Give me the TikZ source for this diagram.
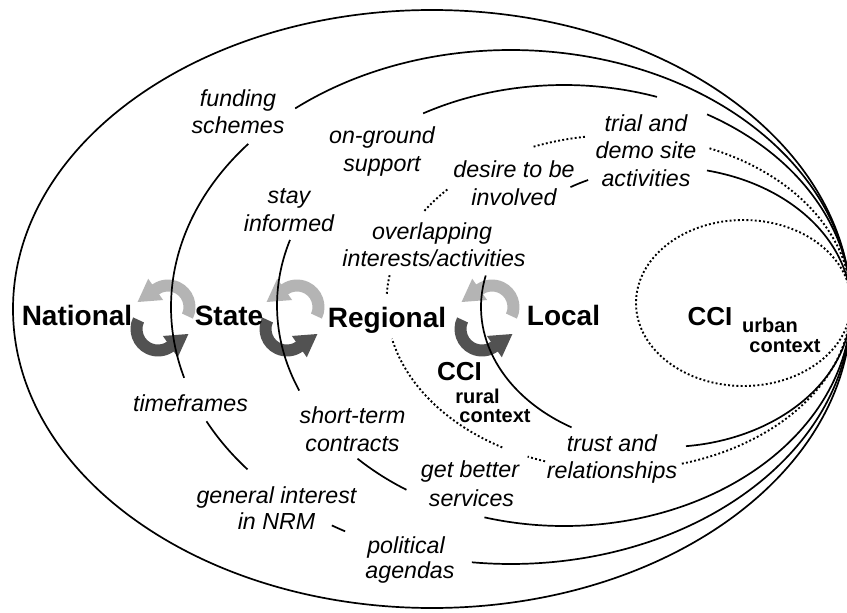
\documentclass[tikz,border=0pt]{standalone}
\usepackage{fontspec}
\setmainfont{Liberation Sans}
\definecolor{lightarr}{RGB}{180,180,180}
\definecolor{darkarr}{RGB}{82,82,82}
\begin{document}
\begin{tikzpicture}[x=1pt,y=-1pt,
  curve/.style={line width=1.7pt, black},
  dots/.style={line width=1.9pt, dash pattern=on 1.9pt off 2.3pt},
  lab/.style={inner sep=0pt, anchor=base, font=\fontsize{23.2}{27}\selectfont\itshape},
  tier/.style={inner sep=0pt, anchor=base, font=\fontsize{28}{32}\selectfont\bfseries},
  cci/.style={inner sep=0pt, anchor=base, font=\fontsize{26}{30}\selectfont\bfseries},
  ctx/.style={inner sep=0pt, anchor=base, font=\fontsize{20}{24}\selectfont\bfseries},
  % one curved arrow: band between radius 15.5 and 27.5, flat end at 25 deg,
  % arrow head starting at -125 deg (y axis points down)
  halfturn/.pic={
    \fill[pic actions] (25:27.5) arc[start angle=25, end angle=-125, radius=27.5]
      -- (-125:34.5) -- (-30.4,-5) -- (-125:8.5) -- (-125:15.5)
      arc[start angle=-125, end angle=25, radius=15.5] -- cycle;
  },
  exch/.pic={
    \pic[fill=lightarr] at (5,-11) {halfturn};
    \pic[fill=darkarr, rotate=180] at (-5,11) {halfturn};
  }]
\fill[white] (0,0) rectangle (847,613);
\useasboundingbox (0,0) rectangle (847,613);
\clip (0,0) rectangle (847,613);

% exchange arrows between the tiers
\pic at (163,318) {exch};
\pic at (292,318) {exch};
\pic at (487,318) {exch};

% outermost ellipse (national)
\draw[curve] (432,309) ellipse[x radius=419, y radius=299];

% state ellipse
\begin{scope}[shift={(511,307)}]
  \draw[curve] (-129.4:340 and 257) arc[start angle=-129.4, end angle=96.6, x radius=340, y radius=257];
  \draw[curve] (119.2:340 and 257) arc[start angle=119.2, end angle=121.8, x radius=340, y radius=257];
  \draw[curve] (140.8:340 and 257) arc[start angle=140.8, end angle=153.6, x radius=340, y radius=257];
  \draw[curve] (164:340 and 257) arc[start angle=164, end angle=219.4, x radius=340, y radius=257];
\end{scope}

% regional ellipse
\begin{scope}[shift={(564,305.5)}]
  \draw[curve] (-119.4:287 and 220.5) arc[start angle=-119.4, end angle=-71.1, x radius=287, y radius=220.5];
  \draw[curve] (-60.1:287 and 220.5) arc[start angle=-60.1, end angle=106.1, x radius=287, y radius=220.5];
  \draw[curve] (123.3:287 and 220.5) arc[start angle=123.3, end angle=136, x radius=287, y radius=220.5];
  \draw[curve] (157.3:287 and 220.5) arc[start angle=157.3, end angle=197.3, x radius=287, y radius=220.5];
\end{scope}

% local ellipse
\begin{scope}[shift={(666,307)}]
  \draw[curve] (-77.2:185 and 140) arc[start angle=-77.2, end angle=83.8, x radius=185, y radius=140];
  \draw[curve] (120.7:185 and 140) arc[start angle=120.7, end angle=193, x radius=185, y radius=140];
  \draw[curve] (238.9:185 and 140) arc[start angle=238.9, end angle=245.1, x radius=185, y radius=140];
\end{scope}

% rural CCI (dotted)
\begin{scope}[shift={(618.75,302.5)}]
  \draw[dots] (-67:232.25 and 167.5) arc[start angle=-67, end angle=74.5, x radius=232.25, y radius=167.5];
  \draw[dots] (108.5:232.25 and 167.5) arc[start angle=108.5, end angle=113.1, x radius=232.25, y radius=167.5];
  \draw[dots] (120.1:232.25 and 167.5) arc[start angle=120.1, end angle=167.5, x radius=232.25, y radius=167.5];
  \draw[dots] (183:232.25 and 167.5) arc[start angle=183, end angle=190, x radius=232.25, y radius=167.5];
  \draw[dots] (213.2:232.25 and 167.5) arc[start angle=213.2, end angle=222.9, x radius=232.25, y radius=167.5];
  \draw[dots] (248.5:232.25 and 167.5) arc[start angle=248.5, end angle=262.1, x radius=232.25, y radius=167.5];
\end{scope}

% urban CCI (dotted)
\draw[dots] (743.5,303) ellipse[x radius=107.5, y radius=83];

% tiers
\node[tier] (national) at (77,325) {National};
\node[tier] (state) at (229,325) {State};
\node[tier] (regional) at (387,327) {Regional};
\node[tier] (local) at (563.5,325) {Local};

% CCI contexts
\node[cci] (cciR) at (459.5,380) {CCI};
\node[ctx] (rural) at (477.5,403) {rural};
\node[ctx] (ruralctx) at (495,422) {context};
\node[cci] (cciU) at (710,325) {CCI};
\node[ctx] (urban) at (770,332) {urban};
\node[ctx] (urbanctx) at (785,352) {context};

% drivers along the boundaries
\node[lab] (fund1) at (238,106) {funding};
\node[lab] (fund2) at (238,133) {schemes};
\node[lab] (ong1) at (382,143) {on-ground};
\node[lab] (ong2) at (382,171) {support};
\node[lab] (stay1) at (289,203) {stay};
\node[lab] (stay2) at (289,231) {informed};
\node[lab] (ovl1) at (432,239) {overlapping};
\node[lab] (ovl2) at (434,266) {interests/activities};
\node[lab] (des1) at (514,177) {desire to be};
\node[lab] (des2) at (514,205) {involved};
\node[lab] (trial1) at (646,131) {trial and};
\node[lab] (trial2) at (646,158) {demo site};
\node[lab] (trial3) at (646,186) {activities};
\node[lab] (time) at (190.5,411) {timeframes};
\node[lab] (short1) at (352.5,423) {short-term};
\node[lab] (short2) at (352.5,451) {contracts};
\node[lab] (gen1) at (276.5,503) {general interest};
\node[lab] (gen2) at (276.5,529) {in NRM};
\node[lab] (pol1) at (406,553) {political};
\node[lab] (pol2) at (410,578) {agendas};
\node[lab] (get1) at (470,477) {get better};
\node[lab] (get2) at (471.5,506) {services};
\node[lab] (trust1) at (612,451) {trust and};
\node[lab] (trust2) at (612,478) {relationships};
\end{tikzpicture}
\end{document}
